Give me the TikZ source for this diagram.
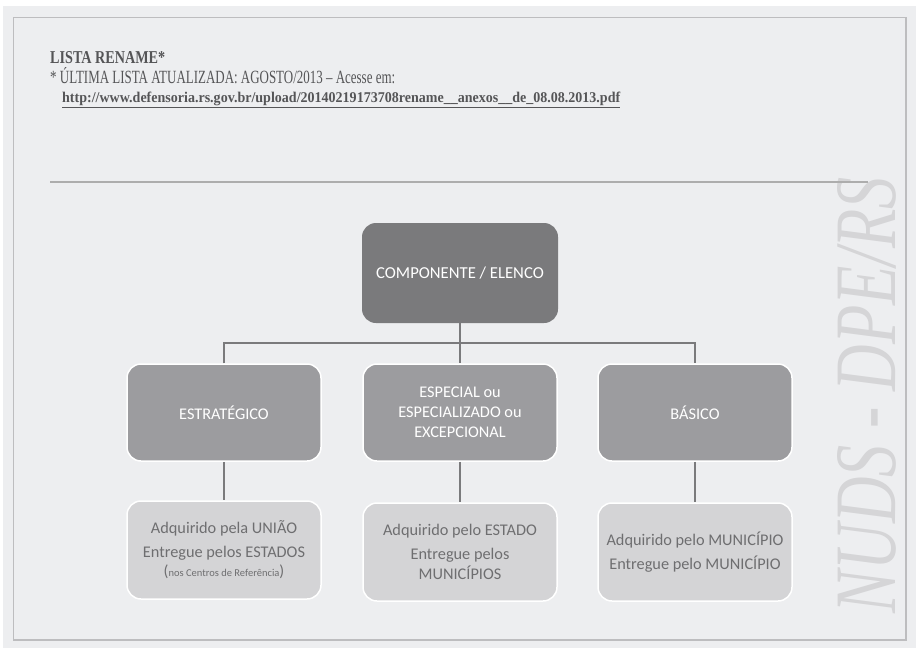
\documentclass[tikz,border=0pt]{standalone}
\usepackage{fontspec}
\setmainfont{Liberation Serif}
\newfontfamily\carl{Carlito}
\usepackage{graphicx}
\definecolor{bgray}{HTML}{EDEEF0}
\definecolor{frameg}{HTML}{BDBDBF}
\definecolor{topf}{HTML}{7A7A7C}
\definecolor{midf}{HTML}{9C9C9F}
\definecolor{lowf}{HTML}{D4D4D6}
\definecolor{lowt}{HTML}{6E6E70}
\definecolor{linec}{HTML}{7A7A7C}
\definecolor{headt}{HTML}{555557}
\definecolor{wmark}{HTML}{D5D5D7}
\tikzset{
  topbox/.style={rounded corners=14pt, fill=topf, minimum width=196pt, minimum height=100pt, text=white, font=\carl\fontsize{16.7}{20}\selectfont, align=center, inner sep=0pt},
  midbox/.style={rounded corners=14pt, fill=midf, draw=white, line width=1.5pt, minimum width=194pt, minimum height=97pt, text=white, font=\carl\fontsize{16.3}{20}\selectfont, align=center, inner sep=0pt},
  lowbox/.style={rounded corners=14pt, fill=lowf, draw=white, line width=1.5pt, minimum width=194pt, minimum height=98pt, text=lowt, font=\carl\fontsize{16.3}{24}\selectfont, align=center, inner sep=0pt},
  conn/.style={draw=linec, line width=2pt},
  headtext/.style={anchor=base west, inner sep=0pt, text=headt}
}
\begin{document}
\begin{tikzpicture}[x=1pt,y=-1pt]
\useasboundingbox (0,0) rectangle (916,648);
\fill[white] (0,0) rectangle (916,648);
\fill[bgray] (3,6) rectangle (916,648);
\draw[frameg, line width=1.2pt] (13.5,17.5) rectangle (906,640);
% watermark
\node[text=wmark, rotate=90, inner sep=0pt] (wm) at (867,395)
  {\resizebox{436pt}{58pt}{\itshape NUDS - DPE/RS}};
% header
\node[headtext, font=\bfseries\fontsize{13.5}{16}\selectfont] (h1) at (50,63) {\resizebox{115pt}{12pt}{LISTA RENAME*}};
\node[headtext, font=\fontsize{13.5}{16}\selectfont] (h2) at (50,83) {\resizebox{345pt}{16pt}{* ÚLTIMA LISTA ATUALIZADA: AGOSTO/2013 – Acesse em:}};
\node[headtext, font=\bfseries\fontsize{10.5}{12}\selectfont] (h3) at (62,102) {\resizebox{558pt}{10.5pt}{\underline{http://www.defensoria.rs.gov.br/upload/20140219173708rename\_\_anexos\_\_de\_08.08.2013.pdf}}};
\draw[color=black!32, line width=1.5pt] (50,182) -- (868,182);
% boxes
\node[topbox] (top) at (460,273) {COMPONENTE / ELENCO};
\node[midbox] (lft) at (224,412.5) {ESTRATÉGICO};
\node[midbox] (mid) at (460,412.5) {ESPECIAL ou\\ESPECIALIZADO ou\\EXCEPCIONAL};
\node[midbox] (rgt) at (695,412.5) {BÁSICO};
\node[lowbox] (lftb) at (224,550) {Adquirido pela UNIÃO\\Entregue pelos ESTADOS\\[-5pt]{\fontsize{16}{16}\selectfont(}{\fontsize{10.5}{12}\selectfont nos Centros de Referência}{\fontsize{16}{16}\selectfont)}};
\node[lowbox] (midb) at (460,552) {Adquirido pelo ESTADO\\Entregue pelos\\[-4pt]MUNICÍPIOS};
\node[lowbox] (rgtb) at (695,552) {Adquirido pelo MUNICÍPIO\\Entregue pelo MUNICÍPIO};
% connectors
\coordinate (j) at (460,343);
\draw[conn] (top.south) -- (mid.north);
\draw[conn] (lft.north) |- (j) -| (rgt.north);
\draw[conn] (lft.south) -- (lftb.north);
\draw[conn] (mid.south) -- (midb.north);
\draw[conn] (rgt.south) -- (rgtb.north);
\end{tikzpicture}
\end{document}
